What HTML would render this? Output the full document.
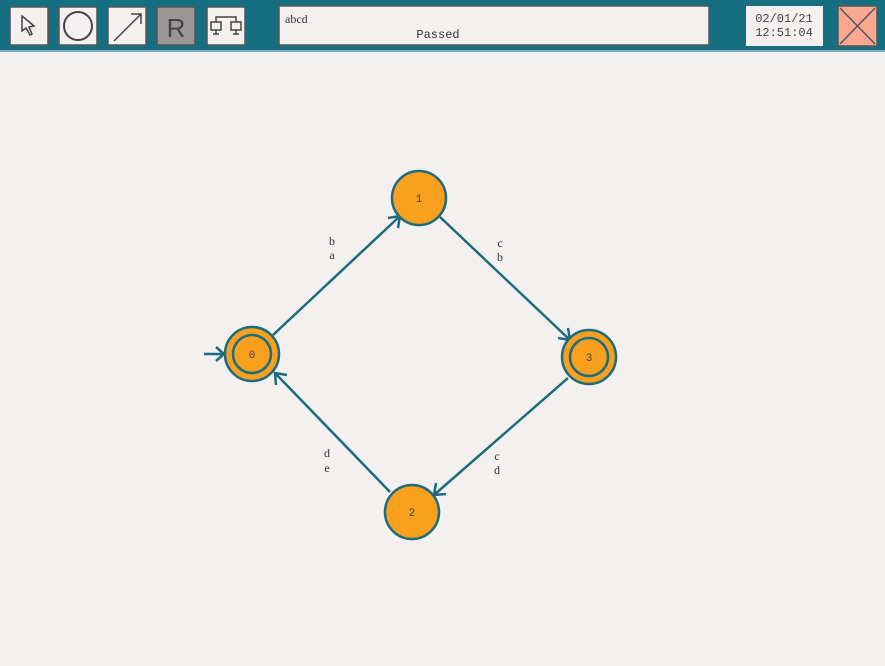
<!DOCTYPE html>
<html><head><style>
body{margin:0;width:885px;height:661px;background:#f4f0ef;overflow:hidden;font-family:"Liberation Mono",monospace}
</style></head><body>
<svg width="885" height="661" xmlns="http://www.w3.org/2000/svg">
<rect x="0" y="0" width="885" height="52" fill="#166f80"/>
<rect x="0" y="50" width="885" height="2" fill="#7fb0bb"/>
<g stroke="#555" stroke-width="1.5" fill="#f4f0ef">
<rect x="10" y="7" width="38" height="38"/>
<rect x="59" y="7" width="38" height="38"/>
<rect x="108" y="7" width="38" height="38"/>
<rect x="157" y="7" width="38" height="38" fill="#9a9696"/>
<rect x="207" y="7" width="38" height="38"/>
<rect x="279" y="6" width="430" height="39"/>
<rect x="746" y="6" width="77" height="40" stroke="none"/>
<rect x="838" y="6" width="39" height="40" fill="#f8a890"/>
</g>
<path d="M22 16 L22 31 L26 28 L30 35 L32 34 L29 27 L34 26 Z" fill="none" stroke="#444" stroke-width="1.5"/>
<circle cx="78" cy="26" r="14" fill="none" stroke="#444" stroke-width="2"/>
<path d="M114 41 L141 14 M131 14 L141 14 L141 24" fill="none" stroke="#444" stroke-width="1.5"/>
<text x="176" y="37" font-family="Liberation Sans,sans-serif" font-size="26" fill="#444" text-anchor="middle">R</text>
<path d="M216 22 L216 17 L236 17 L236 22 M211 22 h10 v8 h-10 z M231 22 h10 v8 h-10 z M216 30 v4 M236 30 v4 M213 34 h6 M233 34 h6" fill="none" stroke="#444" stroke-width="1.5"/>
<path d="M840 8 L875 44 M875 8 L840 44" stroke="#555" stroke-width="1.5"/>
<text x="285" y="23" font-family="Liberation Serif,serif" font-size="12" fill="#333">abcd</text>
<text x="438" y="38" font-family="Liberation Mono,monospace" font-size="12" fill="#333" text-anchor="middle">Passed</text>
<text x="784" y="22" font-size="12" fill="#444" text-anchor="middle">02/01/21</text>
<text x="784" y="36" font-size="12" fill="#444" text-anchor="middle">12:51:04</text>
<g stroke="#1d6b7c" stroke-width="2.5" fill="none">
<path d="M273 335 L400 216 M388 218 L400 216 L398 228"/>
<path d="M440 217 L570 340 M558 338 L570 340 L568 328"/>
<path d="M568 378 L434 495 M436 483 L434 495 L446 494"/>
<path d="M390 492 L275 373 M276 385 L275 373 L287 375"/>
<path d="M204 354 L224 354 M216 347 L224 354 L216 361"/>
</g>
<g fill="#f9a11f" stroke="#1d6b7c" stroke-width="2.5">
<circle cx="252" cy="354" r="27"/><circle cx="252" cy="354" r="19" fill="none"/>
<circle cx="419" cy="198" r="27"/>
<circle cx="589" cy="357" r="27"/><circle cx="589" cy="357" r="19" fill="none"/>
<circle cx="412" cy="512" r="27"/>
</g>
<g font-size="11" fill="#444" text-anchor="middle">
<text x="252" y="358">0</text><text x="419" y="202">1</text><text x="589" y="361">3</text><text x="412" y="516">2</text>
</g>
<g font-family="Liberation Serif,serif" font-size="12" fill="#333" text-anchor="middle">
<text x="332" y="245">b</text><text x="332" y="259">a</text>
<text x="500" y="247">c</text><text x="500" y="261">b</text>
<text x="327" y="457">d</text><text x="327" y="472">e</text>
<text x="497" y="460">c</text><text x="497" y="474">d</text>
</g>
</svg>
</body></html>
